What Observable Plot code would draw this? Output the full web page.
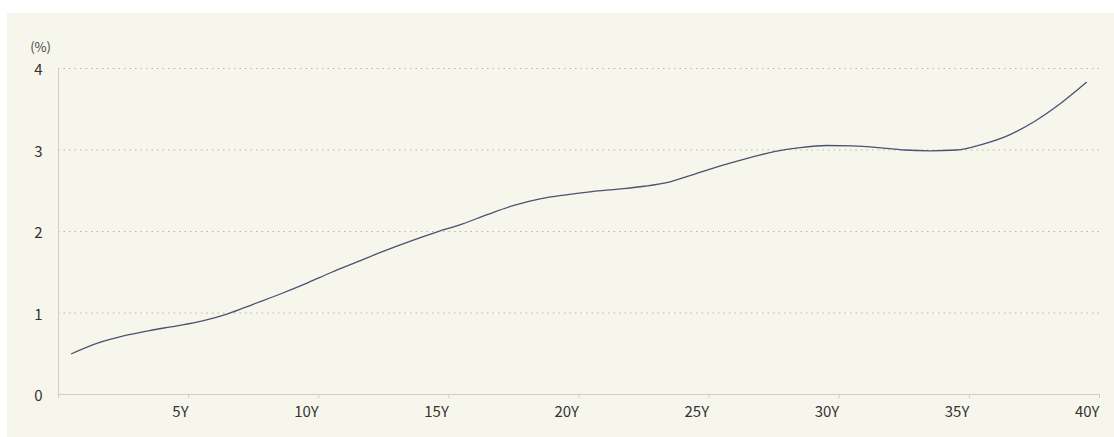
<!DOCTYPE html>
<html>
<head>
<meta charset="utf-8">
<script src="https://cdn.jsdelivr.net/npm/d3@7"></script>
<script src="https://cdn.jsdelivr.net/npm/@observablehq/plot@0.6"></script>
<style>
  html, body { margin: 0; padding: 0; background: #ffffff; }
  #panel {
    position: absolute; left: 7px; top: 13px;
    width: 1107px; height: 424px;
    background: #f7f6ec;
  }
  #panel svg { display: block; }
</style>
</head>
<body>
<div id="panel"></div>
<script>
const tenors = [0.5, 1.5, 2.5, 3.5, 4.5, 5.5, 6.5, 7.5, 8.5, 9.5,
  10.5, 11.5, 12.5, 13.5, 14.5, 15.5, 16.5, 17.5, 18.5, 19.5,
  20.5, 21.5, 22.5, 23.5, 24.5, 25.5, 26.5, 27.5, 28.5, 29.5,
  30.5, 31.5, 32.5, 33.5, 34.5, 35.5, 36.5, 37.5, 38.5, 39.5];
const yields = [0.50, 0.63, 0.72, 0.785, 0.84, 0.90, 0.99, 1.11, 1.23, 1.36,
  1.50, 1.63, 1.76, 1.88, 1.99, 2.09, 2.21, 2.32, 2.40, 2.45,
  2.49, 2.52, 2.555, 2.61, 2.71, 2.81, 2.90, 2.98, 3.03, 3.055,
  3.05, 3.03, 3.00, 2.99, 3.00, 3.07, 3.18, 3.35, 3.57, 3.83];
const xTicks = [0, 5, 10, 15, 20, 25, 30, 35, 40];
const xTickLabels = ["", "5Y", "10Y", "15Y", "20Y", "25Y", "30Y", "35Y", "40Y"];
const yTicks = [0, 1, 2, 3, 4];
const yTickLabels = ["0", "1", "2", "3", "4"];
const yUnit = "(%)";

const data = tenors.map((t, i) => ({tenor: t, yield: yields[i]}));
const font = "'Noto Sans CJK JP', 'Noto Sans', sans-serif";

const chart = Plot.plot({
  width: 1107,
  height: 424,
  marginLeft: 51,
  marginRight: 15,
  marginTop: 55,
  marginBottom: 43,
  style: {background: "transparent", fontFamily: font, fontSize: "15px", color: "#333"},
  x: {domain: [0, 40]},
  y: {domain: [0, 4]},
  marks: [
    Plot.gridY(yTicks.filter(d => d > 0), {stroke: "#b8b6ac", strokeOpacity: 1, strokeDasharray: "1.5,4"}),
    Plot.ruleY([0], {stroke: "#cfcdc4"}),
    Plot.ruleX([0], {y1: 0, y2: 4, stroke: "#cfcdc4"}),
    Plot.axisX({
      ticks: xTicks,
      tickFormat: d => xTickLabels[xTicks.indexOf(d)],
      tickSize: 4,
      stroke: "#cfcdc4",
      textAnchor: "end",
      tickPadding: 8,
      fontSize: 15,
      fill: "#333",
      label: null
    }),
    Plot.axisY({
      ticks: yTicks,
      tickFormat: d => yTickLabels[yTicks.indexOf(d)],
      tickSize: 0,
      tickPadding: 16,
      dy: 2,
      fontSize: 15,
      fill: "#333",
      label: null
    }),
    Plot.text([yUnit], {frameAnchor: "top-left", dx: -18, dy: 29 - 55, text: d => d, fontSize: 13, fill: "#444", textAnchor: "middle"}),
    Plot.line(data, {x: "tenor", y: "yield", stroke: "#4a5273", strokeWidth: 1.3, curve: "monotone-x"})
  ]
});
document.getElementById("panel").appendChild(chart);
</script>
</body>
</html>
